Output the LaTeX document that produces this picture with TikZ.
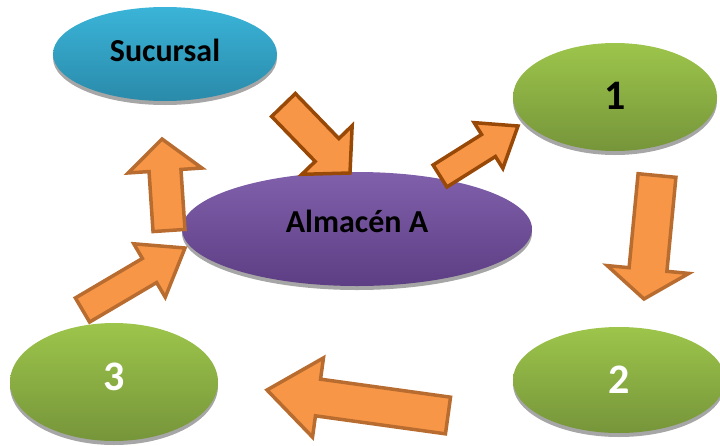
\documentclass[tikz,border=0pt]{standalone}
\usepackage{fontspec}
\setmainfont{Carlito}
\usetikzlibrary{shapes.geometric,calc}
\definecolor{arrowfill}{HTML}{F79646}
\definecolor{arrowdark}{HTML}{984807}
\definecolor{arrowlight}{HTML}{B96C30}
\definecolor{blueT}{HTML}{3AB4D8}
\definecolor{blueB}{HTML}{2A8AAA}
\definecolor{greenT}{HTML}{9DC54B}
\definecolor{greenB}{HTML}{76953A}
\definecolor{purpT}{HTML}{8060AB}
\definecolor{purpB}{HTML}{5D3E84}
\definecolor{shadowgray}{HTML}{A6A6A6}
\newcommand{\blockarrow}[6]{%
  \draw[#1] ($(#2)!#5!90:(#3)$) -- ($(#3)!#5!-90:(#2)$) -- ($(#3)!#6!-90:(#2)$) -- (#4)
    -- ($(#3)!#6!90:(#2)$) -- ($(#3)!#5!90:(#2)$) -- ($(#2)!#5!-90:(#3)$) -- cycle;}
\tikzset{
  oval/.style={ellipse, inner sep=0pt},
  wordfont/.style={font=\fontsize{32}{38}\selectfont\bfseries},
  digitfont/.style={font=\fontsize{42}{48}\selectfont\bfseries},
  shadowoval/.style={ellipse, inner sep=0pt, fill=shadowgray},
  blockdark/.style={fill=arrowfill, draw=arrowdark, line width=3.5pt, line join=miter},
  blocklight/.style={fill=arrowfill, draw=arrowlight, line width=3.5pt, line join=miter}
}
\begin{document}
\begin{tikzpicture}[x=1pt,y=-1pt]
\useasboundingbox (0,0) rectangle (720,445);
% shadows
\node[shadowoval, minimum width=224pt, minimum height=94pt] at (165,58) {};
\node[shadowoval, minimum width=204pt, minimum height=108pt] at (615,101) {};
\node[shadowoval, minimum width=350pt, minimum height=114pt] at (357,233) {};
\node[shadowoval, minimum width=208pt, minimum height=118pt] at (114,386) {};
\node[shadowoval, minimum width=212pt, minimum height=106pt] at (619,384) {};
% ellipses
\node[oval, minimum width=224pt, minimum height=94pt, top color=blueT, bottom color=blueB] (s) at (165,54) {};
\node[oval, minimum width=204pt, minimum height=108pt, top color=greenT, bottom color=greenB] (n1) at (615,97) {};
\node[oval, minimum width=350pt, minimum height=114pt, top color=purpT, bottom color=purpB] (a) at (357,229) {};
\node[oval, minimum width=208pt, minimum height=118pt, top color=greenT, bottom color=greenB] (n3) at (114,382) {};
\node[oval, minimum width=212pt, minimum height=106pt, top color=greenT, bottom color=greenB] (n2) at (619,380) {};
% labels
\node[wordfont] (ls) at ([yshift=4pt]s.center) {Sucursal};
\node[wordfont] (la) at ([yshift=8pt]a.center) {Almacén A};
\node[digitfont] (l1) at ([yshift=1pt]n1.center) {1};
\node[digitfont, text=white] (l3) at ([yshift=5pt]n3.center) {3};
\node[digitfont, text=white] (l2) at ([yshift=0pt]n2.center) {2};
% arrow coordinates
\coordinate (t1) at (283.5,105); \coordinate (b1) at (327,150); \coordinate (p1) at (350,173);
\coordinate (t2) at (440,176); \coordinate (b2) at (488.5,145.5); \coordinate (p2) at (518,126);
\coordinate (t3) at (657,175.5); \coordinate (b3) at (648,269.5); \coordinate (p3) at (644,299);
\coordinate (t4) at (448,415.5); \coordinate (b4) at (318,397.5); \coordinate (p4) at (267,390);
\coordinate (t5) at (82.5,310); \coordinate (b5) at (149.5,270.5); \coordinate (p5) at (185,248);
\coordinate (t6) at (169,230.5); \coordinate (b6) at (165,170.5); \coordinate (p6) at (162,139);
\blockarrow{blockdark}{t1}{b1}{p1}{16.5pt}{35pt}
\blockarrow{blockdark}{t2}{b2}{p2}{13pt}{27pt}
\blockarrow{blocklight}{t3}{b3}{p3}{19pt}{41pt}
\blockarrow{blocklight}{t4}{b4}{p4}{18.5pt}{40pt}
\blockarrow{blocklight}{t5}{b5}{p5}{14pt}{31pt}
\blockarrow{blocklight}{t6}{b6}{p6}{16pt}{37pt}
\end{tikzpicture}
\end{document}
